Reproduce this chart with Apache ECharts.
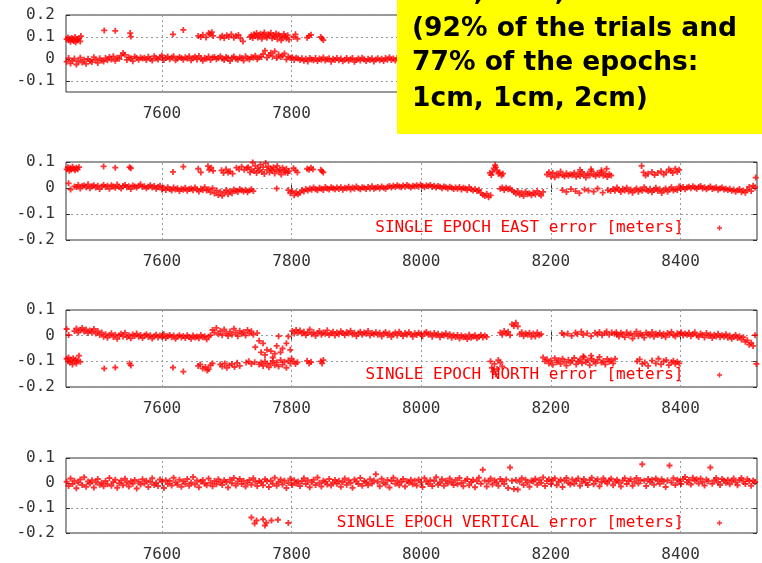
<!DOCTYPE html>
<html><head><meta charset="utf-8">
<script src="https://cdn.jsdelivr.net/npm/echarts@6/dist/echarts.min.js"></script>
<style>html,body{margin:0;padding:0;background:#fff}#c{width:762px;height:563px}</style>
</head><body><div id="c"></div>
<script>
// ---- DATA (metres), epochs ----
const epochStart = 7453, epochStep = 3; // main band sampled every 3 epochs
const xTicks = [7600, 7800, 8000, 8200, 8400];
const yTicksTop = [-0.1, 0, 0.1, 0.2];
const seriesNames = ['top', 'SINGLE EPOCH EAST error [meters]', 'SINGLE EPOCH NORTH error [meters]', 'SINGLE EPOCH VERTICAL error [meters]'];
const boxLines = ['3cm, 3cm, 2cm', '(92% of the trials and', '77% of the epochs:', '1cm, 1cm, 2cm)'];

// Panel 1 (top) main band
const topMain = [
-.012,.004,-.02,-.008,.002,-.025,-.01,.006,-.016,-.003,-.022,.001,-.009,-.014,.008,-.004,-.018,.003,-.007,-.011,
.004,-.006,.009,-.002,.012,-.008,.006,.001,.015,.027,.019,-.004,.008,.003,-.01,.011,.005,-.003,.007,.002,
.006,-.004,.01,.001,-.007,.013,.003,-.002,.008,.016,-.005,.004,.011,-.001,.007,.012,-.006,.002,.009,.004,
-.003,.008,.002,.012,-.006,.005,.01,-.002,.014,.003,-.008,.006,.001,.011,-.004,.007,.009,-.001,.004,.013,
.002,-.005,.009,.004,-.009,.006,.011,.001,-.003,.008,.005,-.007,.012,.003,-.002,.009,.006,.015,-.001,.007,
.01,.022,.038,.006,.018,.028,.012,.035,.004,.02,.009,.015,.025,-.002,.011,.005,.008,-.004,.006,.002,
-.004,.003,-.008,.001,-.011,.005,-.002,-.006,.004,-.009,.002,-.003,.007,-.007,-.001,.003,-.012,.001,-.005,.004,
-.006,.002,-.01,-.003,.005,-.008,-.001,.004,-.013,-.004,.002,-.007,.006,-.002,-.009,.001,-.005,.003,-.011,-.002,
.003,-.006,.001,-.009,.005,-.003,.008,-.004,.002,-.007,.004,-.001,.006,-.005,.002,-.008,.001,.004,-.003,.005
];
const topOutliers = [
[7453,.09],[7455,.098],[7456,.085],[7458,.092],[7459,.078],[7461,.095],[7463,.088],[7464,.082],[7466,.1],[7467,.076],[7469,.09],[7470,.085],[7472,.093],[7474,.08],[7475,.104],
[7511,.13],[7528,.128],[7551,.118],[7552,.102],[7617,.112],[7633,.132],
[7656,.105],[7660,.1],[7663,.11],[7668,.098],[7672,.118],[7674,.112],[7677,.122],[7679,.105],
[7690,.098],[7693,.106],[7696,.095],[7700,.108],[7703,.1],[7707,.112],[7711,.097],[7714,.104],[7718,.109],[7721,.094],[7725,.08],
[7736,.1],[7738,.108],[7740,.095],[7742,.112],[7744,.103],[7746,.118],[7748,.098],[7750,.107],[7752,.115],[7754,.092],[7756,.11],[7758,.12],[7760,.102],[7762,.097],[7764,.113],[7766,.106],[7768,.119],[7770,.094],[7772,.108],[7774,.1],[7776,.116],[7778,.09],[7780,.111],[7782,.104],[7784,.085],[7786,.098],[7788,.114],[7790,.102],[7792,.093],[7794,.108],[7796,.088],
[7803,.1],[7806,.112],[7809,.092],[7824,.097],[7827,.105],[7830,.11],[7845,.1],[7847,.093],[7849,.086]
];

// Panel 2 (EAST)
const eastMain = [
null,.018,-.006,null,.006,.004,.012,-.002,.008,.01,.003,.014,-.001,.007,.011,.002,.009,-.004,.006,.012,
.004,.009,-.003,.011,.006,.001,.013,.005,-.002,.008,.012,.003,.007,-.004,.01,.006,.002,.009,.014,.004,
.007,-.001,.005,.011,.002,.008,-.003,.004,.009,-.006,.001,-.008,.003,-.004,-.01,.002,-.006,-.001,-.012,-.003,
-.007,.001,-.011,-.004,-.002,-.009,.002,-.006,-.013,-.003,-.008,.003,-.01,-.005,-.016,-.001,-.021,-.009,-.027,-.014,
-.03,-.018,-.008,-.024,-.012,-.02,-.006,-.011,-.015,-.004,-.009,-.013,-.007,-.016,-.01,-.005,-.012,null,null,null,
null,null,null,null,null,null,null,null,-.002,null,null,null,null,null,-.008,-.02,-.012,-.028,-.016,-.024,
-.018,-.008,-.013,-.004,-.01,-.002,-.007,.002,-.005,-.009,.001,-.003,-.008,.004,-.002,-.006,.003,-.001,-.005,.002,
-.004,.003,-.007,.001,-.002,.005,-.006,.002,-.003,.006,-.001,-.005,.003,.001,-.004,.004,-.002,.007,-.003,.001,
.004,-.002,.006,.001,-.003,.005,.008,.002,.009,.004,.011,.006,.003,.01,.005,.012,.007,.002,.009,.006,
.011,.005,.013,.008,.003,.01,.007,.012,.004,.009,.002,.008,.005,-.001,.006,.003,-.002,.005,.001,-.004,
.002,-.003,.004,-.006,.001,-.002,-.008,.003,-.005,-.01,-.004,-.012,-.007,-.019,-.026,-.031,-.022,-.036,-.028,null,
null,null,null,-.003,.002,-.008,.001,-.005,-.002,-.009,-.015,-.021,-.012,-.026,-.018,-.031,-.014,-.024,-.02,-.028,
-.017,-.025,-.011,-.022,-.029,-.015,null,.052,.061,.045,.058,.041,.055,.048,.063,.05,.044,.057,.047,.053,
.049,.059,.043,.054,.046,.062,.051,.04,.056,.048,.065,.052,.045,.058,.05,.061,.047,.055,.042,.053,
.048,-.004,-.011,.002,-.008,-.015,-.003,-.01,.001,-.013,-.006,-.018,-.009,-.002,-.014,-.005,-.011,.003,-.007,-.012,
-.003,-.016,-.008,.001,-.012,-.005,-.019,-.009,-.002,-.014,-.006,.003,-.01,-.004,-.008,.006,-.002,.004,-.005,.002,
.005,-.001,.007,.002,-.003,.004,.008,-.002,.003,-.005,.001,.006,-.004,-.001,.003,-.007,-.002,.002,-.006,-.003,
-.008,-.003,-.011,-.006,-.014,-.009,-.004,-.016,-.01,-.018,-.007,.004,-.012,.009,.002
];
const eastOutliers = [
[7453,.072],[7455,.08],[7457,.066],[7458,.076],[7460,.07],[7462,.082],[7464,.074],[7466,.068],[7468,.078],[7470,.072],[7472,.08],
[7510,.083],[7528,.078],[7550,.08],[7552,.076],[7617,.062],[7633,.082],[7656,.074],[7660,.06],[7671,.084],[7673,.07],[7676,.078],[7679,.066],
[7692,.068],[7695,.058],[7699,.072],[7702,.06],[7705,.064],[7709,.055],[7715,.078],[7719,.072],[7723,.082],[7727,.07],[7731,.076],[7733,.08],
[7736,.06],[7738,.072],[7740,.098],[7742,.065],[7744,.085],[7746,.058],[7748,.076],[7750,.068],[7752,.09],[7754,.062],[7756,.08],[7758,.054],[7760,.096],[7762,.07],
[7764,.083],[7766,.06],[7768,.075],[7770,.066],[7772,.08],[7774,.056],[7776,.072],[7778,.085],[7780,.063],[7782,.07],[7784,.052],[7786,.078],[7788,.067],[7790,.06],[7792,.074],[7794,.058],[7796,.065],
[7803,.076],[7806,.068],[7809,.06],[7824,.074],[7827,.07],[7830,.078],[7833,.072],[7845,.07],[7847,.064],[7849,.06],
[8106,.058],[8108,.05],[8110,.062],[8112,.075],[8114,.088],[8115,.08],[8117,.068],[8119,.055],[8121,.06],[8124,.048],[8126,.055],
[8245,.07],[8262,.072],[8278,.068],[8286,.074],
[8340,.085],[8343,.06],[8346,.048],[8350,.055],[8356,.062],[8360,.05],[8365,.058],[8370,.064],[8374,.052],[8378,.06],[8382,.072],[8385,.066],[8388,.058],[8392,.074],[8395,.062],[8398,.07],
[8516,.04],
[8218,-.008],[8224,-.015],[8231,-.004],[8238,-.012],[8244,-.02],[8252,-.006],[8258,-.01],[8266,-.014],[8272,-.002],[8280,-.018],[8288,-.008],[8292,-.012]
];

// Panel 3 (NORTH)
const northMain = [
.026,.003,null,null,.018,.028,.012,.022,.03,.016,.024,.01,.02,.014,.026,.008,.018,.003,.012,-.004,
.006,-.008,.002,.009,-.005,.004,-.012,.001,.007,-.003,.011,-.006,.002,-.01,.005,-.001,.008,-.004,.003,-.009,
.001,.006,-.005,.002,-.011,-.002,.004,-.007,.001,-.004,.006,-.009,-.002,.003,-.006,.001,-.012,-.003,.002,-.007,
-.001,-.009,.002,-.005,-.012,.001,-.007,-.003,-.01,.003,-.006,-.002,-.014,-.004,.002,.022,.012,.03,.006,.018,
.002,.024,.009,-.001,.016,.004,.027,.011,-.002,.019,.007,.014,.001,.022,.009,.017,.004,-.045,.01,-.02,
-.065,-.03,-.075,-.055,null,-.06,-.085,-.07,-.04,-.002,-.065,-.05,null,-.03,-.003,-.055,.018,.008,.022,.012,
.02,.008,.015,.002,.011,.024,.006,.013,-.001,.01,.018,.004,.012,.007,.021,.003,.009,.015,.001,.012,
.006,.017,.01,.002,.014,.008,.019,.005,.011,-.002,.009,.015,.004,.012,.007,.018,.001,.01,.006,.013,
.004,.011,-.003,.008,.014,.002,.009,-.005,.006,.012,.001,.015,.007,-.002,.01,.004,.013,.006,-.004,.009,
.003,.011,.006,-.002,.009,.014,.004,.008,-.004,.01,.002,.007,-.006,.005,.001,.009,-.003,.006,-.008,.002,
-.005,.003,-.011,.001,-.006,-.002,-.013,.004,-.008,-.003,.002,-.01,-.004,.003,-.007,.001,-.005,null,null,null,
null,null,null,.012,.004,.018,.008,.015,.002,.044,.038,.05,.036,.006,.013,-.002,.009,.004,.011,-.004,
.008,-.003,.012,.002,.006,-.085,-.1,-.092,-.108,-.097,-.113,-.088,-.104,-.095,-.11,-.09,-.102,-.117,-.094,-.106,
-.098,-.087,-.112,-.1,-.093,-.107,-.085,-.103,-.096,-.115,-.09,-.101,-.108,-.094,-.083,-.105,-.099,-.112,-.091,-.102,
-.096,-.108,-.09,.004,-.003,.011,.006,-.006,.013,.002,.008,-.011,.005,.016,-.002,.009,.003,-.008,.012,.006,
.001,.014,-.004,.008,.003,.011,-.001,.007,-.006,.01,.004,.015,.002,-.003,.009,.006,.013,.001,.008,.004,
.011,-.002,.006,.013,.001,-.005,.008,.003,-.007,.01,-.001,.005,-.009,.004,-.003,.007,-.006,.002,-.004,.006,
-.008,.001,-.012,-.004,.003,-.009,-.002,-.015,-.006,-.024,-.018,-.035,-.028,-.04,.002
];
const northOutliers = [
[7453,-.09],[7455,-.1],[7456,-.085],[7458,-.105],[7460,-.095],[7462,-.112],[7463,-.088],[7465,-.1],[7467,-.093],[7468,-.108],[7470,-.097],[7472,-.078],[7474,-.102],
[7511,-.128],[7528,-.124],[7550,-.108],[7552,-.116],[7617,-.124],[7633,-.14],[7656,-.118],[7659,-.112],[7663,-.128],[7667,-.122],[7670,-.136],[7672,-.13],[7675,-.115],[7678,-.108],
[7690,-.112],[7693,-.12],[7697,-.108],[7700,-.125],[7704,-.115],[7708,-.11],[7712,-.122],[7716,-.106],[7720,-.118],[7730,-.105],[7734,-.1],[7738,-.11],[7743,-.104],
[7750,-.112],[7753,-.105],[7756,-.118],[7759,-.1],[7762,-.11],[7765,-.123],[7768,-.108],[7771,-.098],[7774,-.115],[7777,-.104],[7780,-.12],[7783,-.095],[7786,-.113],[7789,-.102],[7792,-.125],[7795,-.097],[7798,-.108],[7800,-.09],
[7803,-.1],[7806,-.11],[7809,-.104],[7824,-.098],[7827,-.108],[7830,-.103],[7845,-.1],[7847,-.108],[7849,-.095],
[8107,-.1],[8109,-.125],[8111,-.14],[8113,-.11],[8115,-.15],[8117,-.13],[8119,-.095],[8122,-.105],[8125,-.12],
[8250,-.08],[8262,-.078],
[8333,-.1],[8337,-.092],[8341,-.11],[8345,-.105],[8350,-.118],[8356,-.097],[8362,-.108],[8366,-.09],[8370,-.112],[8374,-.1],[8378,-.095],[8382,-.115],[8386,-.104],[8389,-.098],[8392,-.11],[8395,-.102],[8398,-.108],
[8517,-.11],
[8217,.01],[8220,.004],[8226,.008],[8232,-.001],[8238,.012],[8241,.006],[8247,.016],[8250,.003],[8256,.009],[8262,-.002],[8268,.011],[8272,.005],[8275,.014],[8279,.002],[8283,.009],[8286,.016],[8290,.004],[8294,.012],[8298,.007],[8301,.013]
];

// Panel 4 (VERTICAL)
const vertMain = [
.005,-.012,.018,-.004,.009,-.021,.002,.014,-.008,.023,-.015,.006,-.002,.011,-.018,.003,.016,-.007,.001,-.013,
.008,-.005,.02,-.011,.004,.013,-.019,-.001,.01,-.009,.017,.002,-.014,.007,-.003,.012,-.022,.005,-.006,.015,
-.002,.009,-.016,.004,.019,-.008,.001,-.012,.014,.006,-.02,.011,-.004,.008,-.01,.021,.003,-.007,.013,-.015,
.007,-.003,.016,-.011,.002,.024,-.006,.01,-.017,.005,.012,-.002,-.009,.018,.001,-.013,.008,-.005,.015,.003,
-.008,.011,.004,-.018,.013,-.001,.02,-.01,.006,.016,-.004,.009,-.014,.002,.012,-.007,.019,.005,-.012,.008,
.003,-.009,.015,.007,-.016,.01,-.003,.021,-.011,.004,.014,-.006,.009,-.02,.001,.017,-.008,.011,-.002,.006,
-.012,.007,.019,-.004,.011,-.017,.003,.013,-.008,.022,.001,-.014,.009,.005,-.006,.016,-.01,.002,.012,-.003,
.009,-.015,.004,.018,-.007,.011,.001,-.019,.014,.006,-.004,.02,-.011,.008,.003,-.009,.015,-.002,.01,.035,
.005,-.013,.017,.002,-.006,.012,-.018,.008,.021,-.003,.01,-.009,.004,.016,-.014,.007,.001,.013,-.005,.009,
-.01,.014,.003,-.016,.019,.006,-.004,.011,-.012,.008,.023,-.007,.002,.015,-.011,.009,-.002,.018,.004,-.008,
.012,-.005,.02,.001,-.013,.009,.016,-.009,.004,.013,-.017,.007,.021,-.003,.053,.01,-.014,.006,.018,-.006,
.011,.003,-.011,.016,.007,-.004,.014,-.02,.062,.009,-.024,.012,-.026,.005,.019,-.008,.013,.002,-.015,.01,
.006,.017,-.007,.012,.001,.022,-.012,.008,.015,-.004,.011,.019,-.009,.005,.013,-.016,.009,.02,.002,-.006,
.014,-.003,.009,.018,-.011,.006,.016,.001,-.008,.012,.021,-.005,.008,.015,-.013,.004,.019,.007,-.002,.011,
.017,-.009,.006,.013,.002,-.014,.01,.019,-.004,.008,.015,-.011,.005,.02,-.002,.012,.075,.009,-.012,.016,
.004,.013,-.007,.018,.009,-.003,.015,.006,-.016,.011,.07,.002,.019,-.008,.013,.007,-.004,.016,.024,.003,
.012,-.006,.021,.009,.015,-.002,.018,.005,-.01,.014,.007,.062,-.003,.011,.02,.004,-.008,.016,.01,.001,
.013,-.005,.009,.018,.003,-.009,.012,.02,.006,-.004,.015,.008,-.011,.01,.004
];
const vertOutliers = [
[7738,-.138],[7743,-.162],[7746,-.15],[7756,-.145],[7759,-.17],[7761,-.159],[7769,-.15],[7779,-.147],[7795,-.16]
];

// ---- BUILD ----
function band(vals){ const out=[]; vals.forEach((v,i)=>{ if(v!==null) out.push([epochStart+i*epochStep, v]); }); return out; }
const mains = [topMain, eastMain, northMain, vertMain];
const outs = [topOutliers, eastOutliers, northOutliers, vertOutliers];

const FONT = 'DejaVu Sans Mono';
const PLUS = 'path://M2.1,0H3.9V2.1H6V3.9H3.9V6H2.1V3.9H0V2.1H2.1Z';
const grids = [
  {left:66, right:5, top:15, height:77},
  {left:66, right:5, top:162, height:78},
  {left:66, right:5, top:310, height:77},
  {left:66, right:5, top:458, height:78}
];
const gridStyle = {color:'#9a9a9a', width:1, type:[2,3]};
const xAxes = [], yAxes = [], series = [];
grids.forEach((g,i)=>{
  g.show = true; g.borderColor = '#333'; g.borderWidth = 1; g.backgroundColor = 'transparent';
  xAxes.push({type:'value', gridIndex:i, min:7452, max:8518, position:'bottom',
    axisLine:{show:false}, axisTick:{show:true, inside:true, length:4, lineStyle:{color:'#333'}, customValues:xTicks},
    axisLabel:{show:true, customValues:xTicks, margin:14, fontFamily:FONT, fontSize:16, color:'#333', formatter:v=>String(v)},
    splitLine:{show:false}});
  xAxes.push({type:'value', gridIndex:i, min:7452, max:8518, position:'top',
    axisLine:{show:false}, axisTick:{show:true, inside:true, length:4, lineStyle:{color:'#333'}, customValues:xTicks},
    axisLabel:{show:false}, splitLine:{show:false}});
  const yOpt = i===0 ? {min:-0.15, max:0.2} : {min:-0.2, max:0.1, interval:0.1};
  const yTickOpt = i===0 ? {customValues:yTicksTop} : {};
  yAxes.push(Object.assign({type:'value', gridIndex:i, position:'left',
    axisLine:{show:false}, axisTick:Object.assign({show:true, inside:true, length:4, lineStyle:{color:'#333'}}, yTickOpt),
    axisLabel:Object.assign({show:true, margin:11, fontFamily:FONT, fontSize:16, color:'#333'}, yTickOpt),
    splitLine:{show:true, lineStyle:gridStyle}}, yOpt));
  yAxes.push(Object.assign({type:'value', gridIndex:i, position:'right',
    axisLine:{show:false}, axisTick:Object.assign({show:true, inside:true, length:4, lineStyle:{color:'#333'}}, yTickOpt),
    axisLabel:{show:false}, splitLine:{show:false}}, yOpt));
  const common = {type:'scatter', name:seriesNames[i], xAxisIndex:2*i, yAxisIndex:2*i, symbol:PLUS, symbolSize:6,
    itemStyle:{color:'#ff0000'}, silent:true, animation:false, clip:true, z:3};
  series.push(Object.assign({data:band(mains[i]),
    markLine:{silent:true, z:1, symbol:'none', animation:false, label:{show:false}, lineStyle:gridStyle,
      emphasis:{disabled:true}, data:xTicks.map(v=>({xAxis:v}))}}, common));
  series.push(Object.assign({data:outs[i]}, common));
});

const legends = [
  {name:seriesNames[1], top:220},
  {name:seriesNames[2], top:367},
  {name:seriesNames[3], top:515}
].map(l=>({data:[l.name], top:l.top, right:40, orient:'horizontal', align:'right', padding:0,
  itemWidth:62, itemHeight:5, icon:PLUS, selectedMode:false,
  textStyle:{color:'#ff0000', fontFamily:FONT, fontSize:16}}));

const boxY = [-7, 28.7, 63.5, 99.2];
const graphic = [{type:'rect', left:397, top:0, shape:{width:365, height:134}, style:{fill:'#ffff00'}, z:100}]
  .concat(boxLines.map((t,k)=>({type:'text', x:412, y:boxY[k], z:101,
    style:{text:t, fill:'#000', font:'bold 26.5px "DejaVu Sans"', textVerticalAlign:'middle', textAlign:'left'}})));

const chart = echarts.init(document.getElementById('c'), null, {renderer:'canvas'});
chart.setOption({animation:false, grid:grids, xAxis:xAxes, yAxis:yAxes, series:series, legend:legends, graphic:graphic});
</script></body></html>
